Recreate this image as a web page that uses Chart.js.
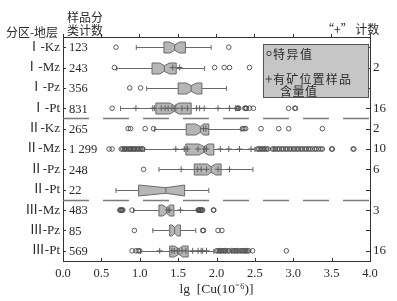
<!DOCTYPE html>
<html>
<head>
<meta charset="utf-8">
<script src="https://cdn.jsdelivr.net/npm/chart.js@4.4.0/dist/chart.umd.min.js"></script>
<style>
  html, body { margin: 0; padding: 0; background: #fff; }
  #wrap { width: 397px; height: 301px; }
</style>
</head>
<body>
<div id="wrap"><canvas id="chart" width="397" height="301"></canvas></div>
<script>
// zone-stratum groups, top to bottom
const groups = ['Ⅰ-Kz', 'Ⅰ-Mz', 'Ⅰ-Pz', 'Ⅰ-Pt', 'Ⅱ-Kz', 'Ⅱ-Mz', 'Ⅱ-Pz', 'Ⅱ-Pt', 'Ⅲ-Mz', 'Ⅲ-Pz', 'Ⅲ-Pt'];
const sampleCounts = ['123', '243', '356', '831', '265', '1 299', '248', '22', '483', '85', '569'];
const plusCounts = ['', '2', '', '16', '2', '10', '6', '', '3', '', '16'];
const xTicks = [0, 0.5, 1, 1.5, 2, 2.5, 3, 3.5, 4];

// box statistics, lg Cu
const whiskerLo = [0.955, 0.70, 1.09, 0.75, 1.19, 1.06, 1.25, 0.69, 0.92, 1.17, 1.01];
const q1        = [1.315, 1.16, 1.50, 1.21, 1.605, 1.60, 1.71, 0.985, 1.25, 1.39, 1.39];
const notchLo   = [1.39, 1.26, 1.61, 1.39, 1.73, 1.77, 1.88, 0.985, 1.30, 1.42, 1.45];
const median    = [1.455, 1.32, 1.67, 1.45, 1.79, 1.835, 1.93, 1.34, 1.35, 1.455, 1.51];
const notchHi   = [1.52, 1.39, 1.74, 1.51, 1.83, 1.89, 1.99, 1.585, 1.39, 1.49, 1.56];
const q3        = [1.595, 1.475, 1.81, 1.67, 1.90, 1.965, 2.06, 1.585, 1.445, 1.53, 1.63];
const whiskerHi = [1.93, 1.845, 2.13, 2.29, 2.32, 2.50, 2.475, 1.90, 1.76, 1.73, 1.965];

// outliers (特异值)
const outliers = [
  [0.69, 2.16],
  [0.67, 1.975, 2.10, 2.17, 2.43],
  [0.87, 1.01],
  [0.64, 2.27, 2.28, 2.29, 2.37, 2.38, 2.39, 2.43, 2.48, 2.94, 3.02, 3.03],
  [0.85, 0.88, 1.07, 1.18, 2.34, 2.36, 2.38, 2.58, 2.81, 2.94, 3.38],
  [0.60, 0.64, 0.76, 0.78, 0.80, 0.81, 0.83, 0.85, 0.87, 0.88, 0.90, 0.92, 0.93, 0.95, 0.97, 0.99, 1.01, 1.03, 1.04,
   2.53, 2.55, 2.57, 2.59, 2.61, 2.63, 2.65, 2.67, 2.73, 2.75, 2.77, 2.80, 2.82, 2.85, 2.87, 2.90, 2.92, 2.95,
   2.97, 3.00, 3.02, 3.05, 3.07, 3.10, 3.12, 3.15, 3.17, 3.20, 3.22, 3.25, 3.28, 3.30, 3.33, 3.36, 3.38, 3.50, 3.51, 3.78, 3.79],
  [1.05],
  [],
  [0.74, 0.75, 0.76, 0.77, 0.78, 0.90, 1.76, 1.77, 1.78, 1.79, 1.80, 1.81, 1.82, 1.96, 1.965],
  [0.93, 1.82, 1.83, 2.02, 2.07],
  [0.90, 0.95, 0.98, 1.00, 2.00, 2.02, 2.04, 2.06, 2.08, 2.10, 2.12, 2.15, 2.17, 2.21, 2.23, 2.25, 2.27, 2.30,
   2.32, 2.34, 2.36, 2.38, 2.40, 2.42, 2.47, 2.91]
];

// ore-location samples (有矿位置样品含量值)
const orePoints = [
  [],
  [1.43, 1.52],
  [],
  [0.95, 1.17, 1.19, 1.28, 1.33, 1.37, 1.42, 1.47, 1.55, 1.62, 1.74, 1.78, 1.84, 2.02, 2.17, 2.25],
  [1.83, 1.86],
  [1.47, 1.58, 1.62, 1.76, 1.845, 1.87, 2.05, 2.16, 2.30, 2.45],
  [1.54, 1.75, 1.80, 1.87, 2.02, 2.17],
  [],
  [1.37, 1.39, 1.53],
  [],
  [1.26, 1.42, 1.45, 1.49, 1.55, 1.60, 1.69, 1.76, 1.80, 1.82, 1.87, 2.05, 2.12, 2.20, 2.27, 2.38]
];

// dashed lines between zones (category positions)
const separators = [3.5, 7.5];

const SERIF = "'Liberation Serif', 'Noto Sans CJK SC', serif";
const CJK = "'Noto Sans CJK SC', sans-serif";
const INK = '#2a2a2a';

const toPoints = lists => lists.flatMap((vals, i) => vals.map(v => ({ x: v, y: groups[i] })));

const boxPlugin = {
  id: 'notchBoxes',
  beforeDatasetsDraw(chart) {
    const { ctx, scales: { x, y } } = chart;
    const px = v => x.getPixelForValue(v);
    const half = 5.5, waist = 2.8, cap = 2.5;
    ctx.save();

    // zone separators
    ctx.setLineDash([26, 14]);
    ctx.lineWidth = 1.3;
    ctx.strokeStyle = '#7a7a7a';
    separators.forEach(s => {
      const sy = Math.round(y.getPixelForValue(s)) + 0.5;
      ctx.beginPath();
      ctx.moveTo(x.left, sy);
      ctx.lineTo(x.right, sy);
      ctx.stroke();
    });
    ctx.setLineDash([]);
    ctx.lineWidth = 1;
    ctx.strokeStyle = '#6a6a6a';

    groups.forEach((g, i) => {
      const cy = Math.round(y.getPixelForValue(i)) + 0.5;
      // whiskers with caps
      ctx.beginPath();
      ctx.moveTo(px(whiskerLo[i]), cy); ctx.lineTo(px(q1[i]), cy);
      ctx.moveTo(px(q3[i]), cy); ctx.lineTo(px(whiskerHi[i]), cy);
      ctx.moveTo(px(whiskerLo[i]), cy - cap); ctx.lineTo(px(whiskerLo[i]), cy + cap);
      ctx.moveTo(px(whiskerHi[i]), cy - cap); ctx.lineTo(px(whiskerHi[i]), cy + cap);
      ctx.stroke();

      // notched box
      ctx.beginPath();
      ctx.moveTo(px(q1[i]), cy - half);
      ctx.lineTo(px(notchLo[i]), cy - half);
      ctx.lineTo(px(median[i]), cy - waist);
      ctx.lineTo(px(notchHi[i]), cy - half);
      ctx.lineTo(px(q3[i]), cy - half);
      ctx.lineTo(px(q3[i]), cy + half);
      ctx.lineTo(px(notchHi[i]), cy + half);
      ctx.lineTo(px(median[i]), cy + waist);
      ctx.lineTo(px(notchLo[i]), cy + half);
      ctx.lineTo(px(q1[i]), cy + half);
      ctx.closePath();
      ctx.fillStyle = '#b6b6b6';
      ctx.fill();
      ctx.stroke();

      ctx.beginPath();
      ctx.moveTo(px(median[i]), cy - waist);
      ctx.lineTo(px(median[i]), cy + waist);
      ctx.stroke();
    });
    ctx.restore();
  },

  afterDraw(chart) {
    const { ctx, chartArea: area, scales: { x, y } } = chart;
    ctx.save();
    ctx.strokeStyle = '#333';
    ctx.lineWidth = 1;

    // inward tick marks: bottom, left and right axes
    ctx.beginPath();
    xTicks.forEach(v => {
      const tx = Math.round(x.getPixelForValue(v)) + 0.5;
      ctx.moveTo(tx, area.bottom);
      ctx.lineTo(tx, area.bottom - 3);
    });
    groups.forEach((g, i) => {
      const ty = Math.round(y.getPixelForValue(i)) + 0.5;
      ctx.moveTo(area.left, ty); ctx.lineTo(area.left + 3, ty);
      ctx.moveTo(area.right, ty); ctx.lineTo(area.right - 4, ty);
    });
    ctx.stroke();

    // sample counts inside the frame
    ctx.fillStyle = INK;
    ctx.font = `12.5px ${SERIF}`;
    ctx.textBaseline = 'middle';
    ctx.textAlign = 'left';
    sampleCounts.forEach((c, i) => ctx.fillText(c, area.left + 6, y.getPixelForValue(i) + 1));

    // headers
    ctx.font = `12px ${CJK}`;
    ctx.textAlign = 'center';
    ctx.fillText('样品分', area.left + 22, 17);
    ctx.fillText('类计数', area.left + 22, 30);
    ctx.fillText('分区-地层', 32, 32);
    ctx.textAlign = 'left';
    ctx.fillText('“+” 计数', area.right - 48, 29);

    // legend box
    const lx = area.right - 107, ly = area.top + 7, lw = 105, lh = 53;
    ctx.fillStyle = '#c6c6c6';
    ctx.strokeStyle = '#555';
    ctx.fillRect(lx, ly, lw, lh);
    ctx.strokeRect(lx + 0.5, ly + 0.5, lw, lh);

    ctx.strokeStyle = '#444';
    ctx.beginPath();
    ctx.arc(lx + 6, ly + 9.5, 2.2, 0, Math.PI * 2);
    ctx.stroke();
    ctx.beginPath();
    ctx.moveTo(lx + 2.5, ly + 35); ctx.lineTo(lx + 9, ly + 35);
    ctx.moveTo(lx + 5.75, ly + 31.5); ctx.lineTo(lx + 5.75, ly + 38.5);
    ctx.stroke();

    ctx.fillStyle = INK;
    ctx.font = `12px ${CJK}`;
    ctx.letterSpacing = '1.5px';
    ctx.fillText('特异值', lx + 10, ly + 10);
    ctx.letterSpacing = '1.2px';
    ctx.fillText('有矿位置样品', lx + 10, ly + 35);
    ctx.letterSpacing = '0.5px';
    ctx.fillText('含量值', lx + 17, ly + 47);
    ctx.restore();
  }
};

new Chart(document.getElementById('chart'), {
  type: 'scatter',
  data: {
    labels: groups,
    datasets: [
      {
        label: '有矿位置样品含量值',
        data: toPoints(orePoints),
        pointStyle: 'cross',
        radius: 3,
        borderColor: '#5e5e5e',
        borderWidth: 1
      },
      {
        label: '特异值',
        data: toPoints(outliers),
        pointStyle: 'circle',
        radius: 2.3,
        borderColor: '#4a4a4a',
        backgroundColor: 'rgba(0,0,0,0)',
        borderWidth: 0.9
      }
    ]
  },
  options: {
    responsive: false,
    animation: false,
    devicePixelRatio: 1,
    events: [],
    layout: { padding: 0 },
    plugins: { legend: { display: false }, tooltip: { enabled: false } },
    scales: {
      x: {
        type: 'linear', position: 'bottom', min: 0, max: 4,
        afterFit: s => { s.height = 40; },
        afterBuildTicks: s => { s.ticks = xTicks.map(v => ({ value: v })); },
        ticks: {
          callback: v => v.toFixed(1), autoSkip: false, maxRotation: 0,
          padding: 5, color: INK, font: { family: SERIF, size: 12.5 }
        },
        grid: { drawOnChartArea: false, drawTicks: false },
        border: { color: '#333', width: 1 },
        title: {
          display: true, text: 'lg  [Cu(10⁻⁶)]', color: INK,
          font: { family: SERIF, size: 13.5 }, padding: { top: 0, bottom: 3 }
        }
      },
      xTop: {
        type: 'linear', position: 'top', min: 0, max: 4,
        afterFit: s => { s.height = 37; },
        afterBuildTicks: s => { s.ticks = xTicks.map(v => ({ value: v })); },
        ticks: { display: false },
        grid: { drawOnChartArea: false, drawTicks: true, tickLength: 3, color: '#333' },
        border: { color: '#333', width: 1 }
      },
      y: {
        type: 'category', position: 'left', labels: groups, offset: true,
        afterFit: s => { s.width = 63; },
        ticks: { autoSkip: false, padding: 3, color: INK, font: { family: SERIF, size: 13 } },
        grid: { drawOnChartArea: false, drawTicks: false },
        border: { color: '#333', width: 1 }
      },
      y2: {
        type: 'category', position: 'right', labels: groups, offset: true,
        afterFit: s => { s.width = 27; },
        ticks: {
          autoSkip: false, padding: 3, color: INK, font: { family: SERIF, size: 13 },
          callback: (v, i) => plusCounts[i]
        },
        grid: { drawOnChartArea: false, drawTicks: false },
        border: { color: '#333', width: 1 }
      }
    }
  },
  plugins: [boxPlugin]
});
</script>
</body>
</html>
